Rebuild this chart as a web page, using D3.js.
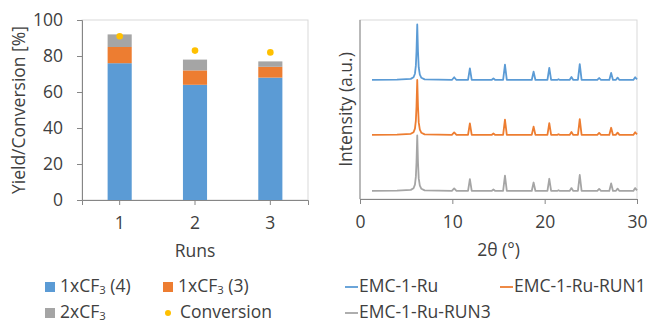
<!DOCTYPE html>
<html>
<head>
<meta charset="utf-8">
<script src="https://cdn.jsdelivr.net/npm/d3@7"></script>
<style>
  html, body { margin: 0; padding: 0; background: #fff; }
  svg { display: block; }
  text { font-family: "Open Sans", sans-serif; fill: #404040; }
</style>
</head>
<body>
<svg id="chart" width="654" height="324"></svg>
<script>
// ---------- Data: left chart (yields / conversion per run) ----------
const runs = ["1", "2", "3"];
const yield1xCF3_4 = [76, 64, 68];
const yield1xCF3_3 = [9, 8, 6];
const yield2xCF3 = [7, 6, 3];
const conversion = [91, 83, 82];
const yTicksLeft = [0, 20, 40, 60, 80, 100];

// ---------- Data: right chart (XRD patterns) ----------
const xTicksRight = [0, 10, 20, 30];
const patternNames = ["EMC-1-Ru", "EMC-1-Ru-RUN1", "EMC-1-Ru-RUN3"];
const twoTheta = [
  1.3, 4.0, 5.5, 5.8, 5.95, 6.05, 6.12, 6.2, 6.28, 6.36, 6.48, 6.65, 7.0,
  9.95, 10.2, 10.45,
  11.7, 11.9, 12.1,
  14.25, 14.45, 14.65,
  15.5, 15.7, 15.9,
  18.6, 18.8, 19.0,
  20.3, 20.5, 20.7,
  21.35, 21.5, 21.65,
  22.7, 22.9, 23.1,
  23.6, 23.8, 24.0,
  25.7, 25.9, 26.1,
  27.0, 27.2, 27.4,
  27.7, 27.9, 28.1,
  29.6, 29.8, 30.0
];
const intensityRu = [
  0, 0.2, 0.6, 1.5, 3.5, 8, 16, 31, 16, 7, 3, 1.2, 0.3,
  0, 1.5, 0,
  0, 6.5, 0,
  0, 0.9, 0,
  0, 8.6, 0,
  0, 4.6, 0,
  0, 6.7, 0,
  0, 0.4, 0,
  0, 1.7, 0,
  0, 8.9, 0,
  0, 1.1, 0,
  0, 3.9, 0,
  0, 1.3, 0,
  0, 1.5, 0.3
];
const intensityRun1 = [
  0, 0.2, 0.6, 1.5, 3.5, 8, 16, 30.7, 16, 7, 3, 1.2, 0.3,
  0, 1.4, 0,
  0, 6.4, 0,
  0, 0.8, 0,
  0, 8.5, 0,
  0, 4.6, 0,
  0, 6.6, 0,
  0, 0.4, 0,
  0, 1.6, 0,
  0, 8.8, 0,
  0, 1.1, 0,
  0, 4.0, 0,
  0, 1.3, 0,
  0, 1.5, 0.3
];
const intensityRun3 = [
  0, 0.2, 0.6, 1.5, 3.5, 8, 16, 31, 16, 7, 3, 1.2, 0.3,
  0, 1.4, 0,
  0, 6.6, 0,
  0, 0.8, 0,
  0, 8.6, 0,
  0, 4.7, 0,
  0, 6.8, 0,
  0, 0.4, 0,
  0, 1.6, 0,
  0, 8.9, 0,
  0, 1.1, 0,
  0, 4.2, 0,
  0, 1.3, 0,
  0, 1.6, 0.3
];
const patternOffsets = [66.5, 35.8, 4.5];

// ---------- Styles ----------
const colBlue = "#5B9BD5", colOrange = "#ED7D31", colGray = "#A5A5A5", colYellow = "#FFC000";
const axisCol = "#868686", borderCol = "#D9D9D9";
const fs = 17.5;

const svg = d3.select("#chart");

// ================= LEFT CHART =================
const L = { left: 82, right: 308, top: 20, bottom: 200 };
const xL = d3.scaleBand().domain(runs).range([L.left, L.right]).paddingInner(0.68).paddingOuter(0.34);
const yL = d3.scaleLinear().domain([0, 100]).range([L.bottom, L.top]);

svg.append("rect").attr("x", L.left).attr("y", L.top).attr("width", L.right - L.left).attr("height", L.bottom - L.top)
  .attr("fill", "none").attr("stroke", borderCol).attr("stroke-width", 1);

const stackData = runs.map((r, i) => ({ run: r, a: yield1xCF3_4[i], b: yield1xCF3_3[i], c: yield2xCF3[i] }));
const stack = d3.stack().keys(["a", "b", "c"])(stackData);
const stackColors = [colBlue, colOrange, colGray];
stack.forEach((layer, k) => {
  svg.append("g").selectAll("rect").data(layer).join("rect")
    .attr("x", d => xL(d.data.run))
    .attr("width", xL.bandwidth())
    .attr("y", d => yL(d[1]))
    .attr("height", d => yL(d[0]) - yL(d[1]))
    .attr("fill", stackColors[k]);
});

svg.append("g").selectAll("circle").data(runs).join("circle")
  .attr("cx", d => xL(d) + xL.bandwidth() / 2)
  .attr("cy", (d, i) => yL(conversion[i]))
  .attr("r", 3.3).attr("fill", colYellow);

const yAxisL = svg.append("g").attr("transform", `translate(${L.left},0)`)
  .call(d3.axisLeft(yL).tickValues(yTicksLeft).tickSize(5).tickPadding(14).tickFormat(d3.format("d")));
yAxisL.select(".domain").attr("stroke", axisCol);
yAxisL.selectAll(".tick line").attr("stroke", axisCol);
yAxisL.selectAll(".tick text").attr("font-size", fs).attr("font-family", "Open Sans").attr("fill", "#404040");

const xAxisL = svg.append("g").attr("transform", `translate(0,${L.bottom})`)
  .call(d3.axisBottom(xL).tickSize(5).tickPadding(12).tickSizeOuter(5));
xAxisL.select(".domain").attr("stroke", axisCol);
xAxisL.selectAll(".tick line").attr("stroke", axisCol);
xAxisL.selectAll(".tick text").attr("font-size", fs).attr("font-family", "Open Sans").attr("fill", "#404040");

svg.append("text").attr("x", (L.left + L.right) / 2).attr("y", 252).attr("text-anchor", "middle")
  .attr("dominant-baseline", "middle").attr("font-size", fs).text("Runs");
svg.append("text").attr("transform", `translate(20,${(L.top + L.bottom) / 2}) rotate(-90)`)
  .attr("text-anchor", "middle").attr("dominant-baseline", "middle").attr("font-size", fs).text("Yield/Conversion [%]");

function cf3Label(sel, prefix, suffix) {
  sel.append("tspan").text(prefix + "xCF");
  sel.append("tspan").attr("font-size", fs * 0.65).attr("dy", 4).text("3");
  if (suffix) sel.append("tspan").attr("dy", -4).text(" " + suffix);
}
const legL = [
  { x: 45, y: 287, type: "rect", color: colBlue, pre: "1", suf: "(4)" },
  { x: 163, y: 287, type: "rect", color: colOrange, pre: "1", suf: "(3)" },
  { x: 45, y: 313, type: "rect", color: colGray, pre: "2", suf: "" },
  { x: 163, y: 313, type: "dot", color: colYellow, label: "Conversion" }
];
legL.forEach(d => {
  if (d.type === "rect") {
    svg.append("rect").attr("x", d.x).attr("y", d.y - 5).attr("width", 10).attr("height", 10).attr("fill", d.color);
    const t = svg.append("text").attr("x", d.x + 15).attr("y", d.y).attr("dominant-baseline", "middle").attr("font-size", fs);
    cf3Label(t, d.pre, d.suf);
  } else {
    svg.append("circle").attr("cx", d.x + 5).attr("cy", d.y).attr("r", 3).attr("fill", d.color);
    svg.append("text").attr("x", d.x + 17).attr("y", d.y).attr("dominant-baseline", "middle").attr("font-size", fs).text(d.label);
  }
});

// ================= RIGHT CHART =================
const R = { left: 360, right: 637, top: 20, bottom: 199 };
const xR = d3.scaleLinear().domain([0, 30]).range([R.left, R.right]);
const yR = d3.scaleLinear().domain([0, 100]).range([R.bottom, R.top]);

svg.append("rect").attr("x", R.left).attr("y", R.top).attr("width", R.right - R.left).attr("height", R.bottom - R.top)
  .attr("fill", "none").attr("stroke", borderCol).attr("stroke-width", 1);

const patterns = [intensityRu, intensityRun1, intensityRun3];
const patternColors = [colBlue, colOrange, colGray];
const line = d3.line().x(d => xR(d[0])).y(d => yR(d[1]));
patterns.forEach((vals, k) => {
  const pts = twoTheta.map((t, i) => [t, vals[i] + patternOffsets[k]]);
  svg.append("path").datum(pts).attr("d", line).attr("fill", "none")
    .attr("stroke", patternColors[k]).attr("stroke-width", 1.8).attr("stroke-linejoin", "round");
});

const xAxisR = svg.append("g").attr("transform", `translate(0,${R.bottom})`)
  .call(d3.axisBottom(xR).tickValues(xTicksRight).tickSize(5).tickPadding(12).tickFormat(d3.format("d")));
xAxisR.select(".domain").attr("stroke", axisCol);
xAxisR.selectAll(".tick line").attr("stroke", axisCol);
xAxisR.selectAll(".tick text").attr("font-size", fs).attr("font-family", "Open Sans").attr("fill", "#404040");

svg.append("line").attr("x1", R.left).attr("x2", R.left).attr("y1", R.top).attr("y2", R.bottom).attr("stroke", axisCol);

svg.append("text").attr("x", (R.left + R.right) / 2).attr("y", 251).attr("text-anchor", "middle")
  .attr("dominant-baseline", "middle").attr("font-size", fs).text("2θ (°)");
svg.append("text").attr("transform", `translate(347,${(R.top + R.bottom) / 2}) rotate(-90)`)
  .attr("text-anchor", "middle").attr("dominant-baseline", "middle").attr("font-size", fs).text("Intensity (a.u.)");

const legR = [
  { x: 345, y: 287, k: 0 },
  { x: 500, y: 287, k: 1 },
  { x: 345, y: 313, k: 2 }
];
legR.forEach(d => {
  svg.append("line").attr("x1", d.x).attr("x2", d.x + 13).attr("y1", d.y).attr("y2", d.y)
    .attr("stroke", patternColors[d.k]).attr("stroke-width", 1.8);
  svg.append("text").attr("x", d.x + 14).attr("y", d.y).attr("dominant-baseline", "middle")
    .attr("font-size", fs).text(patternNames[d.k]);
});
</script>
</body>
</html>
